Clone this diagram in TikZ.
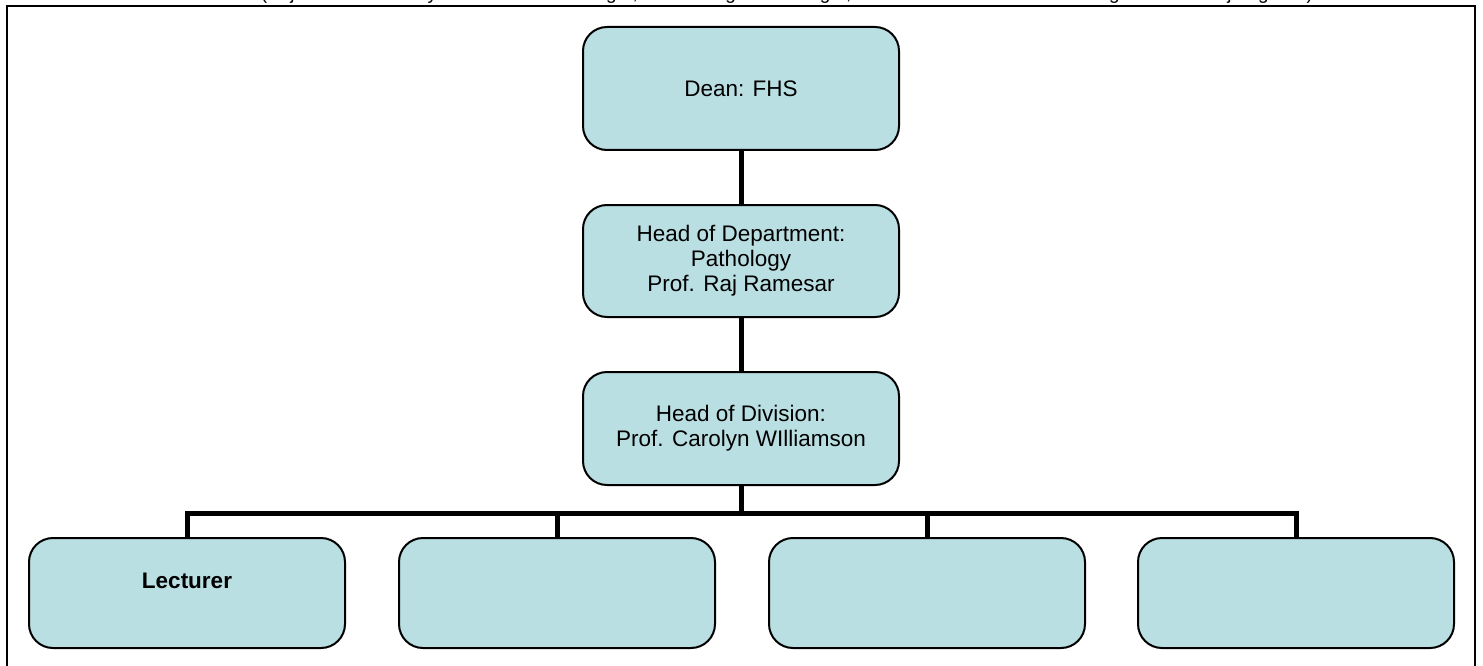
\documentclass[tikz,border=0pt]{standalone}
\usepackage{fontspec}
\setmainfont{Liberation Sans}
\definecolor{boxfill}{RGB}{186,223,226}
\tikzset{
  post/.style={draw, line width=2pt, fill=boxfill, rounded corners=24pt,
    minimum width=316pt, align=center, font=\fontsize{22.5}{25}\selectfont},
  link/.style={line width=5pt}
}
\begin{document}
\begin{tikzpicture}[x=1pt,y=-1pt]
        \useasboundingbox (0,0) rectangle (1483,666);
        \clip (0,0) rectangle (1483,666);
        % Draw frame and the cut-off note above it
        \node[font=\fontsize{19}{23}\selectfont, anchor=base] (note) at (787,0)
          {(Adjust as necessary -- include line manager, line manager's manager, direct subordinates and colleagues in same job grade)};
        \draw[line width=2.5pt] (7,700) -- (7,6) -- (1475,6) -- (1475,700);

        % Draw the posts
        \node[post, minimum height=123pt] (dean) at (741,88.5) {Dean: FHS};
        \node[post, minimum height=112pt] (hod) at (741,261) {Head of Department:\\Pathology\\Prof. Raj Ramesar};
        \node[post, minimum height=113pt] (hdiv) at (741,428.5) {Head of Division:\\Prof. Carolyn WIlliamson};
        \node[post, minimum height=110pt] (lec) at (187,593) {\textbf{Lecturer}\\\mbox{}};
        \node[post, minimum height=110pt] (p2) at (557,593) {};
        \node[post, minimum height=110pt] (p3) at (927,593) {};
        \node[post, minimum height=110pt] (p4) at (1296,593) {};

        % Draw lines between the posts
        \coordinate (bus) at (741,513);
        \draw[link] (dean) -- (hod);
        \draw[link] (hod) -- (hdiv);
        \draw[link] (hdiv) -- (bus);
        \draw[link] (lec.north) |- (bus) -| (p4.north);
        \draw[link] (p2.north) -- (p2.north |- bus);
        \draw[link] (p3.north) -- (p3.north |- bus);
    \end{tikzpicture}
\end{document}
